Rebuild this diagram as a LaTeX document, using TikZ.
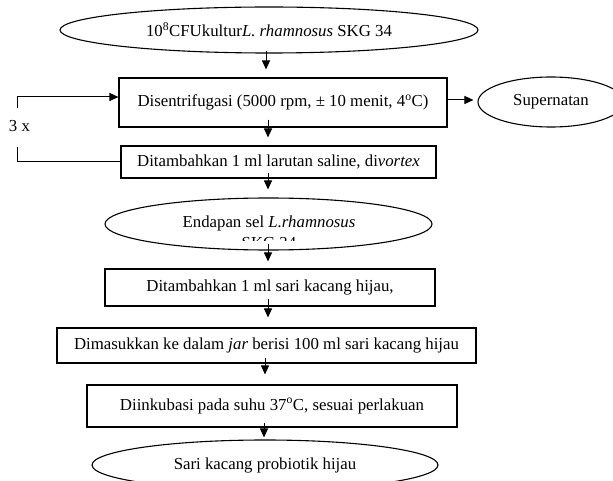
\documentclass[tikz,border=0pt]{standalone}
\usepackage{fontspec}
\setmainfont{Liberation Serif}
\usetikzlibrary{shapes.geometric,arrows.meta}
\begin{document}
\begin{tikzpicture}[x=1pt,y=-1pt,
  every node/.style={font=\fontsize{16.8}{20}\selectfont, inner sep=0pt},
  procbox/.style={draw, line width=1.1pt, rectangle},
  oval/.style={draw, line width=1.1pt, ellipse},
  arr/.style={line width=1pt, -{Triangle[length=9pt,width=8pt]}},
  plain/.style={line width=1pt}]
\clip (0,0) rectangle (613,481);
% nodes
\node[oval, minimum width=418pt, minimum height=46pt] (e1) at (269,30)
  {10\textsuperscript{8}CFUkultur\textit{L. rhamnosus} SKG 34};
\node[procbox, minimum width=328pt, minimum height=49pt] (b1) at (283,102.5)
  {Disentrifugasi (5000 rpm, ± 10 menit, 4\textsuperscript{o}C)};
\node[oval, minimum width=146pt, minimum height=50pt] (sup) at (551,102) {Supernatan};
\node[procbox, minimum width=315pt, minimum height=32pt] (b2) at (278.5,162)
  {Ditambahkan 1 ml larutan saline, di\textit{vortex}};
\node[oval, minimum width=327pt, minimum height=52pt] (e2) at (268.5,224) {};
\node[anchor=base] (e2a) at (269,228) {Endapan sel \textit{L.rhamnosus}};
\begin{scope}
  \clip (0,0) rectangle (613,240.5);
  \node[anchor=base] (e2b) at (269,248) {SKG 34};
\end{scope}
\node[procbox, minimum width=330pt, minimum height=37pt] (b3) at (270,287.5)
  {Ditambahkan 1 ml sari kacang hijau,};
\node[procbox, minimum width=419pt, minimum height=35pt] (b4) at (266.5,345.5)
  {Dimasukkan ke dalam \textit{jar} berisi 100 ml sari kacang hijau};
\node[procbox, minimum width=370pt, minimum height=42pt] (b5) at (272,406)
  {Diinkubasi pada suhu 37\textsuperscript{o}C, sesuai perlakuan};
\node[oval, minimum width=346pt, minimum height=50pt] (e3) at (265,465)
  {Sari kacang probiotik hijau};
\node (rep) at (19.5,126) {3 x};
% helper coordinates
\coordinate (c264) at (264,0);
\coordinate (c265) at (265,0);
\coordinate (c266) at (266,0);
\coordinate (c268) at (268,0);
\coordinate (r100) at (0,100);
\coordinate (lb) at (17,147);
\coordinate (lt) at (17,108);
\coordinate (ltop) at (0,97);
% connectors
\draw[arr, shorten <=-3pt, shorten >=8pt] (e1.south -| c266) -- (b1.north -| c266);
\draw[arr, shorten <=-8pt, shorten >=8pt] (b1.south -| c268) -- (b2.north -| c268);
\draw[arr, shorten <=-6pt, shorten >=8pt] (b2.south -| c268) -- (e2.north -| c268);
\draw[arr, shorten <=-7pt, shorten >=7pt] (e2.south -| c268) -- (b3.north -| c268);
\draw[arr, shorten <=-8pt, shorten >=10pt] (b3.south -| c268) -- (b4.north -| c268);
\draw[arr, shorten <=-6pt, shorten >=10pt] (b4.south -| c265) -- (b5.north -| c265);
\draw[arr, shorten <=-5pt, shorten >=2pt] (b5.south -| c264) -- (e3.north -| c264);
\draw[arr, shorten >=4pt] (b1.east |- r100) -- (sup.west |- r100);
% repeat loop
\draw[plain] (b2.west) -| (lb);
\draw[arr] (lt) |- (b1.west |- ltop);
\end{tikzpicture}
\end{document}
